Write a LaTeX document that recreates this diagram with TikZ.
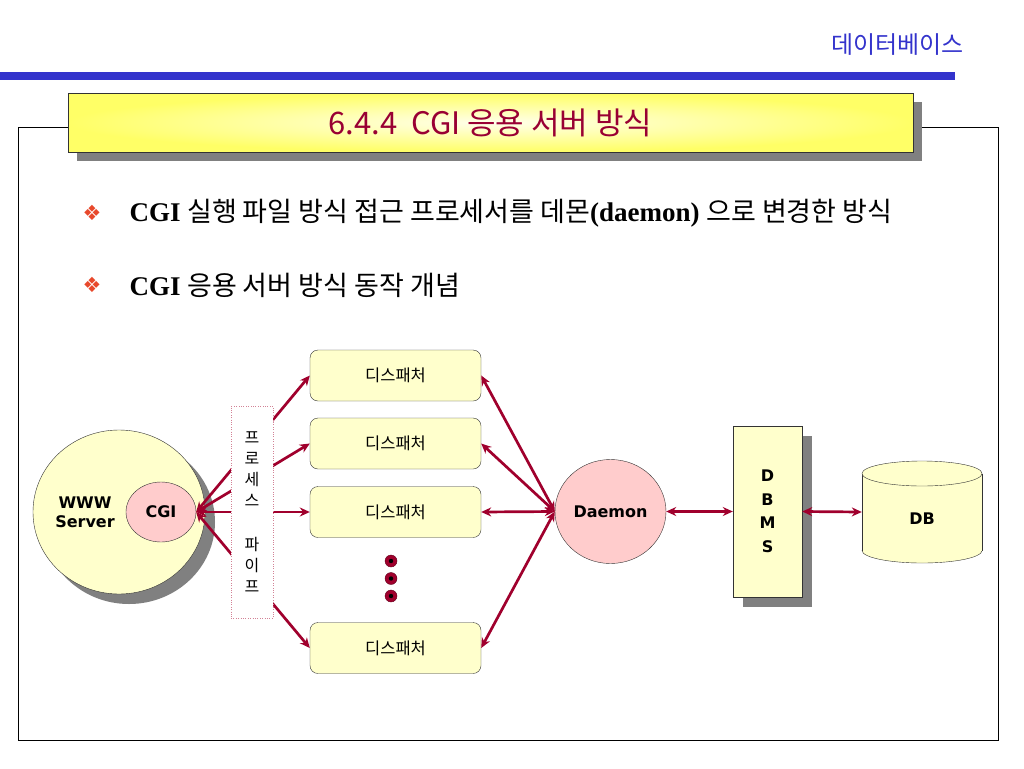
\documentclass[tikz,border=0pt]{standalone}
\usepackage{fontspec}
\setmainfont{Liberation Serif}
\newfontfamily\kr{Noto Sans CJK KR}
\newfontfamily\djv{DejaVu Sans}
\usetikzlibrary{arrows.meta,shadows,shapes.geometric}
\definecolor{arrowred}{RGB}{160,0,45}
\definecolor{lightyel}{RGB}{255,255,204}
\definecolor{pinkf}{RGB}{255,204,204}
\definecolor{barblue}{RGB}{51,51,204}
\definecolor{titlered}{RGB}{153,0,51}
\definecolor{bulletred}{RGB}{232,72,43}
\definecolor{shadowgray}{RGB}{128,128,128}
\definecolor{pipeborder}{RGB}{210,130,150}
\begin{document}
\begin{tikzpicture}[x=1pt,y=-1pt,
  shad/.style={drop shadow={shadow xshift=10pt,shadow yshift=-10pt,fill=shadowgray,opacity=1}},
  disp/.style={draw=black!80,fill=lightyel,rounded corners=8pt,minimum width=171pt,minimum height=51pt,inner sep=0pt,font=\kr\fontsize{16.5}{18}\selectfont},
  lbl/.style={font=\djv\bfseries\fontsize{16}{19}\selectfont},
  conn/.style={draw=arrowred,line width=2.7pt,{Stealth[length=10pt,width=9pt]}-{Stealth[length=10pt,width=9pt]}},
  dotn/.style={circle,fill=arrowred,draw=arrowred!60!black,minimum size=12pt,inner sep=0pt},
  bul/.style={text=bulletred,font=\djv\fontsize{21}{24}\selectfont},
  btext/.style={anchor=west,font=\fontsize{27}{30}\selectfont}]
\useasboundingbox (0,0) rectangle (1024,768);
\fill[white] (0,0) rectangle (1024,768);
% header
\node[anchor=east,text=barblue,font=\kr\fontsize{24}{28}\selectfont] (hdr) at (967,45) {데이터베이스};
\fill[barblue] (0,72) rectangle (955,80);
% frame
\draw[line width=1pt] (18,127) rectangle (998,740);
% title
\node[draw=black!80,line width=0.8pt,inner color=yellow!8,outer color=yellow!60,
  drop shadow={shadow xshift=9pt,shadow yshift=-9pt,fill=shadowgray,opacity=1},
  minimum width=845pt,minimum height=59pt,text=titlered,font=\kr\fontsize{31}{35}\selectfont] (title) at (490.5,122.5) {\raisebox{-4pt}{6.4.4\ \ CGI 응용 서버 방식}};
% bullets
\node[bul] (b1) at (92,213) {❖};
\node[btext] (t1) at (126,213) {\bfseries CGI {\kr\mdseries 실행 파일 방식 접근 프로세서를 데몬}(daemon) {\kr\mdseries 으로 변경한 방식}};
\node[bul] (b2) at (92,285) {❖};
\node[btext] (t2) at (126,285) {\bfseries CGI {\kr\mdseries 응용 서버 방식 동작 개념}};
% WWW server
\node[ellipse,draw=black!80,fill=lightyel,shad,minimum width=172pt,minimum height=164pt,inner sep=0pt] (www) at (119,512) {};
\node[lbl,align=center] (wwwt) at (85,512) {WWW\\Server};
\node[ellipse,draw=black!80,fill=pinkf,minimum width=70pt,minimum height=60pt,inner sep=0pt,lbl] (cgi) at (161,512) {CGI};
% dispatchers
\node[disp] (d1) at (395.5,375.5) {디스패처};
\node[disp] (d2) at (395.5,443.5) {디스패처};
\node[disp] (d3) at (395.5,512) {디스패처};
\node[disp] (d4) at (395.5,648) {디스패처};
% daemon, dbms, db
\node[ellipse,draw=black!80,fill=pinkf,minimum width=111pt,minimum height=104pt,inner sep=0pt,lbl] (daemon) at (610.5,511.5) {Daemon};
\node[draw=black!80,fill=lightyel,shad,minimum width=69pt,minimum height=171pt,inner sep=0pt,lbl,align=center,font=\djv\bfseries\fontsize{16}{23.5}\selectfont] (dbms) at (767.5,511.5) {D\\B\\M\\S};
% DB cylinder
\fill[lightyel,draw=black!80] (922,550.5) ellipse [x radius=60,y radius=12.5];
\fill[lightyel] (862,473.5) rectangle (982,550.5);
\draw[black!80] (862,473.5) -- (862,550.5) (982,473.5) -- (982,550.5);
\fill[lightyel,draw=black!80] (922,473.5) ellipse [x radius=60,y radius=12.5];
\node[minimum width=120pt,minimum height=102pt,inner sep=0pt] (db) at (922,512) {};
\node[lbl] (dbt) at (922,519) {DB};
% connectors
\draw[conn] (cgi.east) -- (d1.west);
\draw[conn] (cgi.east) -- (d2.west);
\draw[conn] (cgi.east) -- (d3.west);
\draw[conn] (cgi.east) -- (d4.west);
\draw[conn] (daemon.west) -- (d1.east);
\draw[conn] (daemon.west) -- (d2.east);
\draw[conn] (daemon.west) -- (d3.east);
\draw[conn] (daemon.west) -- (d4.east);
\draw[conn] (daemon.east) -- (dbms.west);
\draw[conn] (dbms.east) -- (db.west);
% process pipe box
\node[draw=pipeborder,dotted,fill=white,minimum width=42pt,minimum height=212pt,inner sep=0pt,align=center,font=\kr\fontsize{16}{21}\selectfont] (pipe) at (252,512) {프\\로\\세\\스\\[23pt]파\\이\\프};
% dots
\node[dotn] (dot1) at (391,561) {};
\node[dotn] (dot2) at (391,578.5) {};
\node[dotn] (dot3) at (391,596) {};
\fill[black] (dot1) circle (2.2);
\fill[black] (dot2) circle (2.2);
\fill[black] (dot3) circle (2.2);
\end{tikzpicture}
\end{document}
